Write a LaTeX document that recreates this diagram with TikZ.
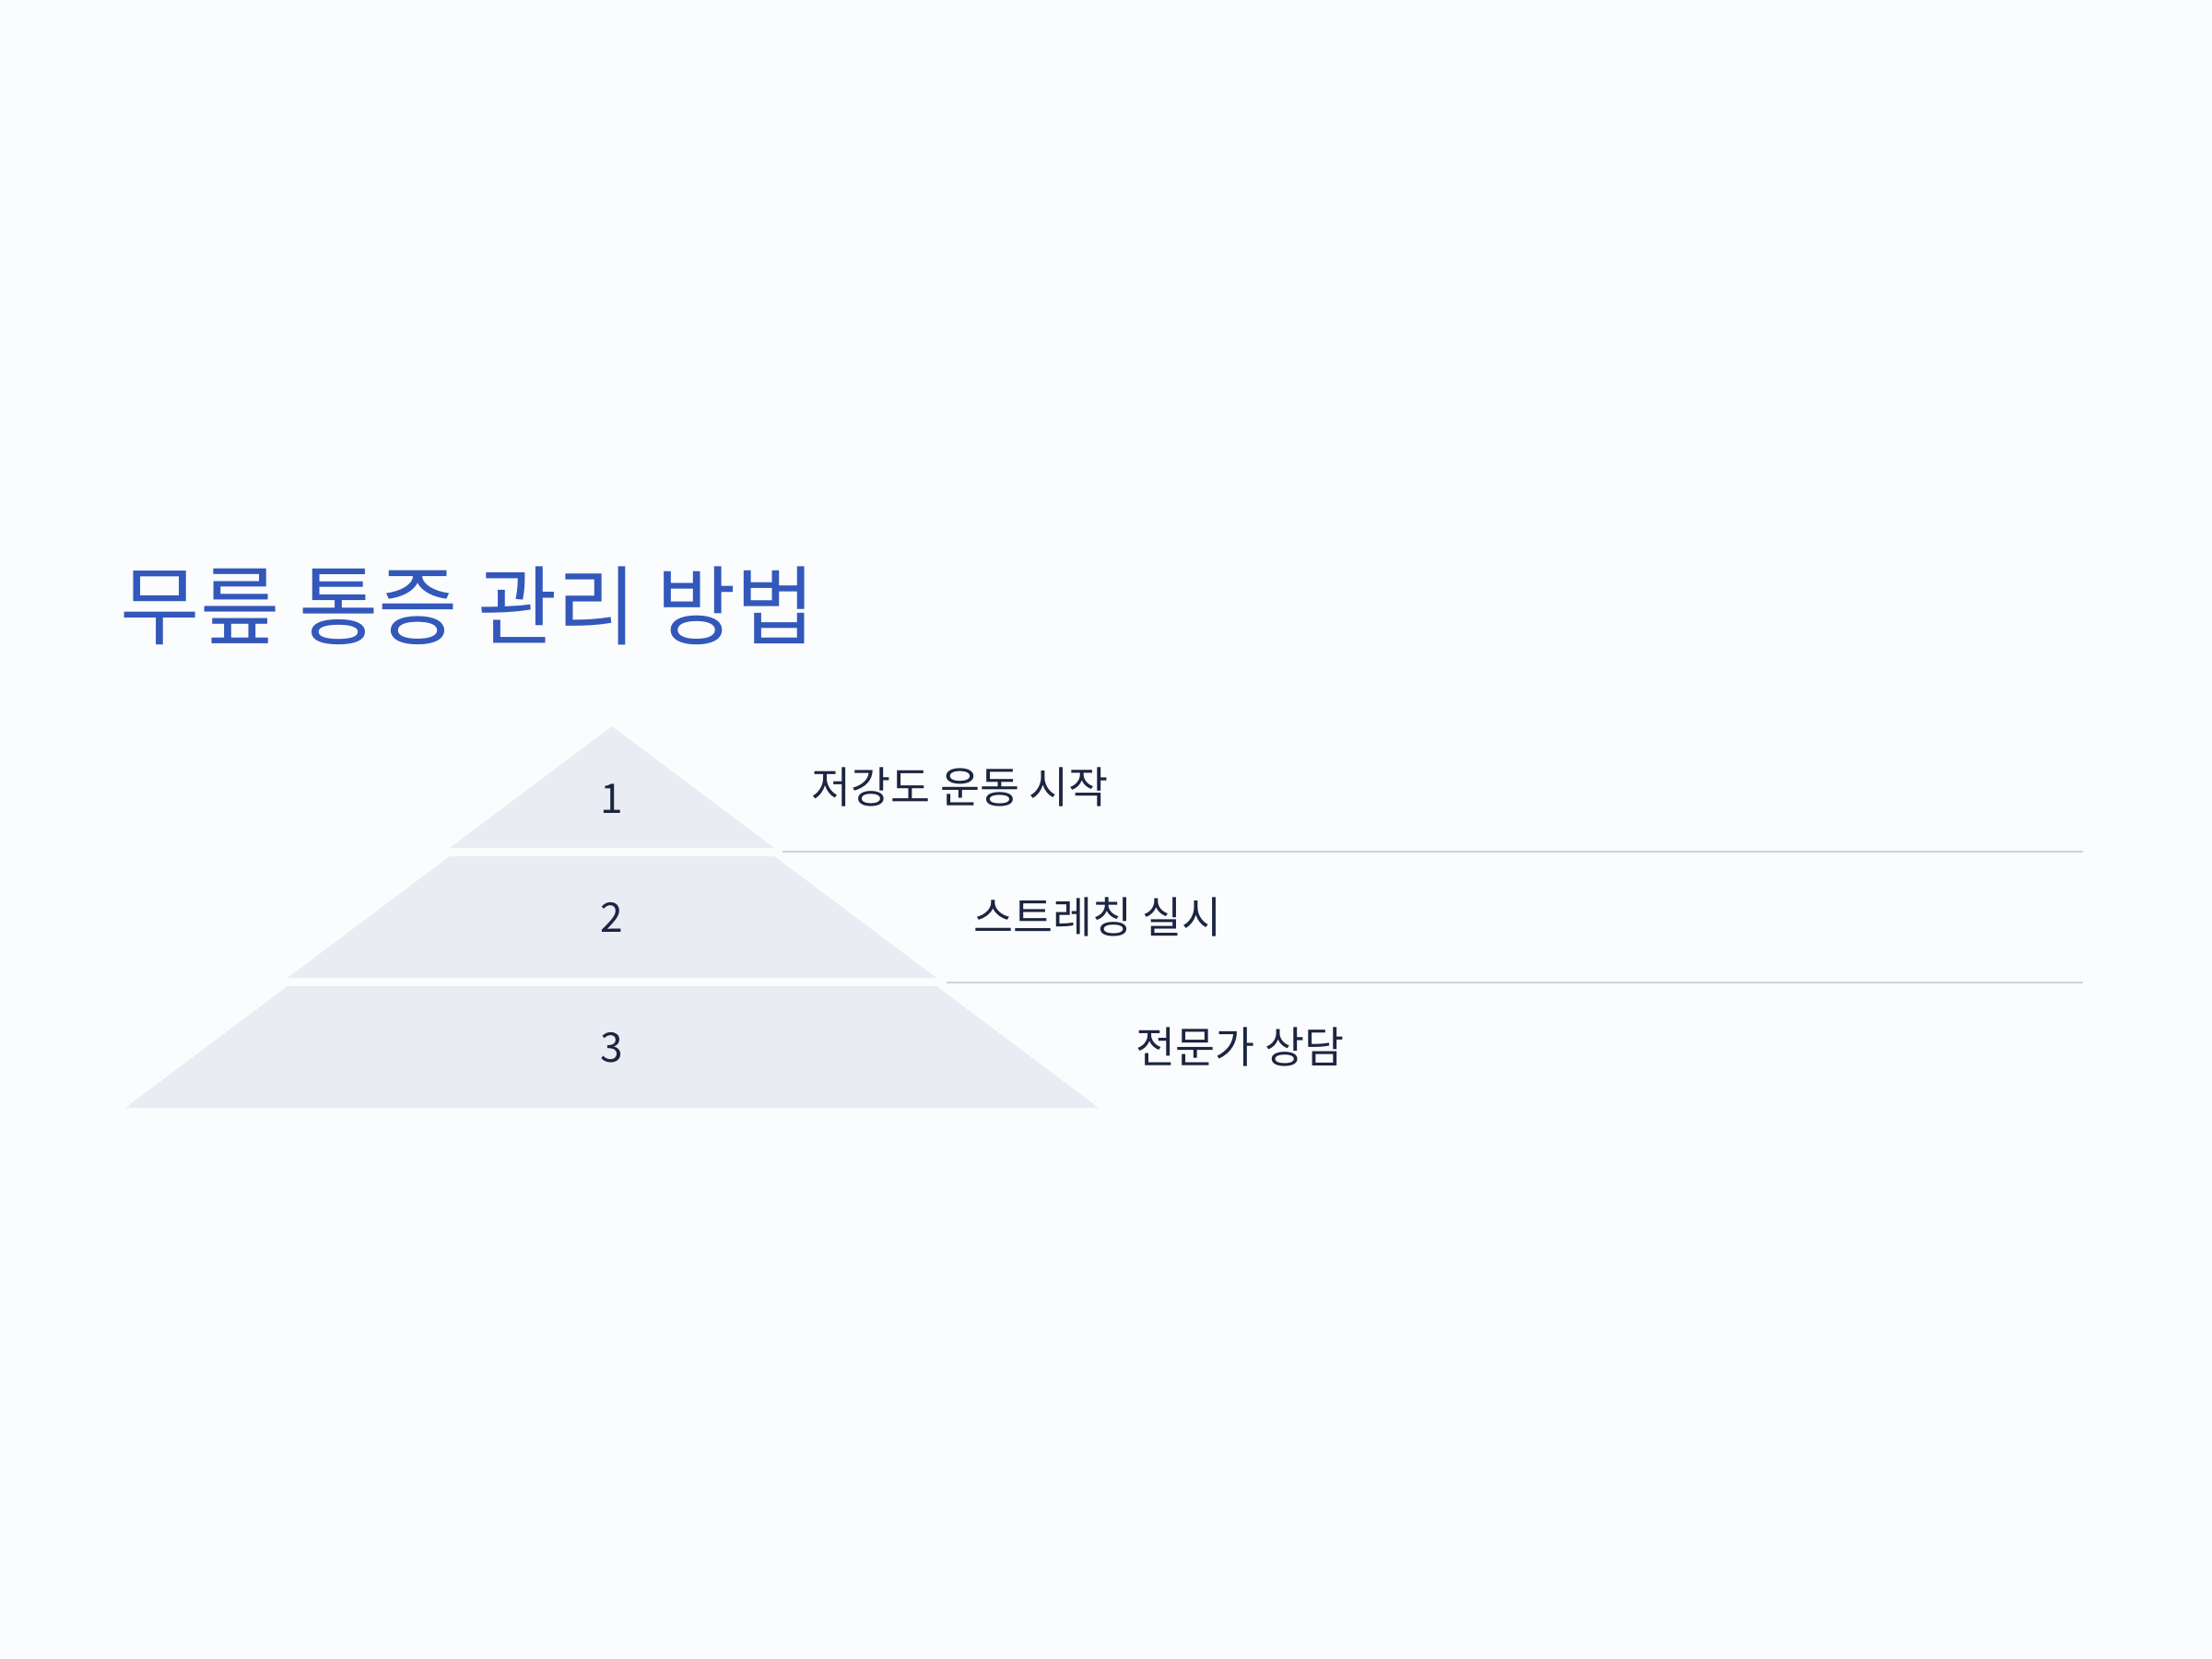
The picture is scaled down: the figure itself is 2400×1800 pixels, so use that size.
\documentclass[tikz,border=0pt]{standalone}
\usepackage{fontspec}
\setmainfont{Noto Sans CJK KR}
\usepackage{tikz}
\usetikzlibrary{positioning}
\definecolor{bgcol}{HTML}{FBFCFD}
\definecolor{tiercol}{HTML}{E9ECF3}
\definecolor{rulecol}{HTML}{D0D3DC}
\definecolor{titlecol}{HTML}{3358BB}
\definecolor{inkcol}{HTML}{1C2541}
\tikzset{x=0.01cm, y=-0.01cm,
         tier/.style={fill=tiercol, draw=none},
         tiernum/.style={font=\fontsize{12.6}{14}\selectfont, text=inkcol, inner sep=0pt},
         tierlabel/.style={font=\fontsize{13.3}{15}\selectfont, text=inkcol, anchor=west, inner sep=0pt},
         rule/.style={draw=rulecol, line width=0.8pt}}

\begin{document}
\begin{tikzpicture}
	  \fill[bgcol] (0,0) rectangle (2400,1800);
	  \useasboundingbox (0,0) rectangle (2400,1800);
	  \node[anchor=west, inner sep=0pt, text=titlecol,
	        font=\fontsize{26.7}{30}\selectfont] (title) at (130,657) {무릎 통증 관리 방법};
	  % pyramid tiers
	  \foreach \i/\ny/\txt in {1/867/저강도 운동 시작, 2/995/스트레칭 실시, 3/1137/전문가 상담} {
	    \pgfmathsetmacro{\yt}{788+(\i-1)*141}
	    \pgfmathsetmacro{\yb}{\yt+132}
	    \pgfmathsetmacro{\wt}{(\i-1)*176}
	    \pgfmathsetmacro{\wb}{\i*176}
	    \fill[tier] (664-\wt,\yt) -- (664+\wt,\yt) -- (664+\wb,\yb) -- (664-\wb,\yb) -- cycle;
	    \node[tiernum] (num\i) at (664,\ny) {\i};
	    \node[tierlabel] (lab\i) at (664+\wb+40,\yt+66) {\txt};
	  }
	  % separators
	  \coordinate (s1a) at (849,924);  \coordinate (s1b) at (2260,924);
	  \coordinate (s2a) at (1027,1066); \coordinate (s2b) at (2260,1066);
	  \draw[rule] (s1a) -- (s1b);
	  \draw[rule] (s2a) -- (s2b);
\end{tikzpicture}
\end{document}
